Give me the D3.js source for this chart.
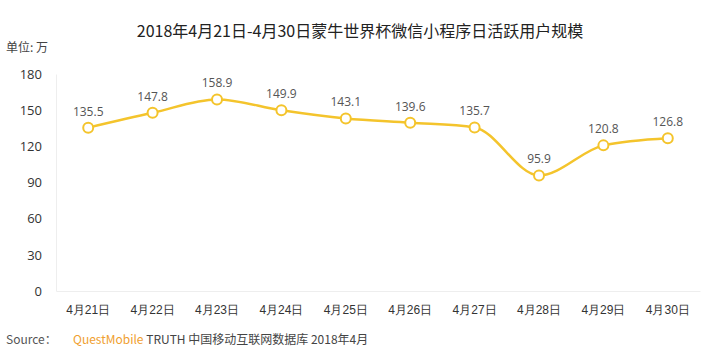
<!DOCTYPE html>
<html>
<head>
<meta charset="utf-8">
<script src="https://cdn.jsdelivr.net/npm/d3@7"></script>
<style>
  body { margin: 0; background: #fff; }
  svg { display: block; font-family: "Noto Sans CJK SC", "Open Sans", sans-serif; }
</style>
</head>
<body>
<div id="chart"></div>
<script>
const days = ["4月21日", "4月22日", "4月23日", "4月24日", "4月25日", "4月26日", "4月27日", "4月28日", "4月29日", "4月30日"];
const dau = [135.5, 147.8, 158.9, 149.9, 143.1, 139.6, 135.7, 95.9, 120.8, 126.8];
const yTicks = [0, 30, 60, 90, 120, 150, 180];

const W = 715, H = 354;
const margin = { top: 74, right: 15, bottom: 63, left: 56 };

const svg = d3.select("#chart").append("svg")
    .attr("width", W)
    .attr("height", H);

const x = d3.scaleBand()
    .domain(days)
    .range([margin.left, W - margin.right]);

const y = d3.scaleLinear()
    .domain([0, 180])
    .range([H - margin.bottom, margin.top]);

// title
svg.append("text")
    .attr("x", 360)
    .attr("y", 37)
    .attr("text-anchor", "middle")
    .style("font-size", "16px")
    .style("fill", "#222")
    .text("2018年4月21日-4月30日蒙牛世界杯微信小程序日活跃用户规模");

svg.append("text")
    .attr("x", 6)
    .attr("y", 52)
    .style("font-size", "12px")
    .style("fill", "#444")
    .text("单位: 万");

// y axis
const yAxis = svg.append("g")
    .attr("transform", `translate(${margin.left},0)`)
    .call(d3.axisLeft(y).tickValues(yTicks).tickSize(0).tickPadding(14));
yAxis.select(".domain").attr("stroke", "#eee");
yAxis.selectAll("text")
    .style("font-size", "13px")
    .style("fill", "#333")
    .style("font-family", "'Open Sans', sans-serif");

// x axis
const xAxis = svg.append("g")
    .attr("transform", `translate(0,${H - margin.bottom})`)
    .call(d3.axisBottom(x).tickSize(0).tickPadding(14));
xAxis.select(".domain").attr("stroke", "#eee");
xAxis.selectAll("text")
    .style("font-size", "12px")
    .style("fill", "#333");

// line
const line = d3.line()
    .x((d, i) => x(days[i]) + x.bandwidth() / 2)
    .y(d => y(d))
    .curve(d3.curveMonotoneX);

svg.append("path")
    .datum(dau)
    .attr("d", line)
    .attr("fill", "none")
    .attr("stroke", "#F4C42C")
    .attr("stroke-width", 2.5);

svg.selectAll("circle.pt")
    .data(dau)
    .join("circle")
    .attr("class", "pt")
    .attr("cx", (d, i) => x(days[i]) + x.bandwidth() / 2)
    .attr("cy", d => y(d))
    .attr("r", 5)
    .attr("fill", "#fff")
    .attr("stroke", "#F4C42C")
    .attr("stroke-width", 2);

svg.selectAll("text.lbl")
    .data(dau)
    .join("text")
    .attr("class", "lbl")
    .attr("x", (d, i) => x(days[i]) + x.bandwidth() / 2)
    .attr("y", d => y(d) - 12)
    .attr("text-anchor", "middle")
    .style("font-size", "12px")
    .style("fill", "#555")
    .style("font-family", "'Open Sans', sans-serif")
    .text(d => d.toFixed(1));

// source
const src = svg.append("text")
    .attr("y", 344)
    .style("font-size", "12px")
    .style("fill", "#555");
src.append("tspan").attr("x", 6).text("Source：");
src.append("tspan").attr("x", 73).style("fill", "#F0A030").text("QuestMobile");
src.append("tspan").style("fill", "#444").text(" TRUTH 中国移动互联网数据库 2018年4月");
</script>
</body>
</html>
